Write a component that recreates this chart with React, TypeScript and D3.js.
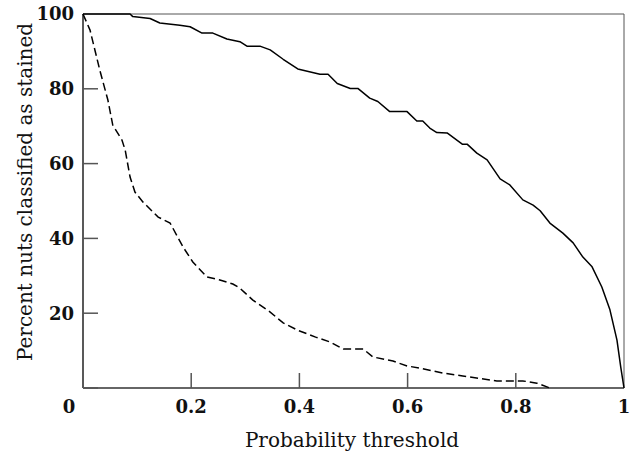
import React from "react";
import { scaleLinear, line } from "d3";

// solid curve: probability threshold vs percent classified as stained
const solidX = [0, 0.087, 0.092, 0.124, 0.142, 0.179, 0.198, 0.22, 0.24, 0.266, 0.29, 0.303, 0.327, 0.346, 0.37, 0.397, 0.438, 0.453, 0.47, 0.494, 0.508, 0.53, 0.545, 0.567, 0.599, 0.617, 0.628, 0.641, 0.654, 0.673, 0.701, 0.71, 0.728, 0.747, 0.771, 0.789, 0.813, 0.832, 0.845, 0.863, 0.887, 0.906, 0.924, 0.941, 0.959, 0.974, 0.987, 0.994, 1];
const solidY = [100, 100, 99.3, 98.8, 97.6, 97.0, 96.6, 94.9, 94.9, 93.3, 92.6, 91.4, 91.4, 90.4, 87.9, 85.3, 83.9, 83.9, 81.4, 80.1, 80.1, 77.5, 76.6, 73.9, 73.9, 71.4, 71.4, 69.5, 68.3, 68.2, 65.2, 65.2, 62.8, 61.0, 55.9, 54.3, 50.3, 48.9, 47.4, 44.1, 41.4, 38.8, 35.0, 32.4, 27.0, 20.9, 12.8, 5.6, 0];

// dashed curve
const dashX = [0, 0.013, 0.031, 0.046, 0.055, 0.072, 0.078, 0.087, 0.096, 0.111, 0.139, 0.161, 0.185, 0.203, 0.229, 0.253, 0.277, 0.29, 0.314, 0.346, 0.37, 0.396, 0.43, 0.457, 0.481, 0.518, 0.536, 0.573, 0.599, 0.623, 0.665, 0.702, 0.765, 0.813, 0.839, 0.863];
const dashY = [100, 95.7, 85, 77, 70.3, 66.3, 63.6, 56.4, 52.4, 49.7, 45.7, 44.1, 37.7, 33.7, 29.7, 28.9, 27.8, 26.7, 23.5, 20.3, 17.4, 15.5, 13.6, 12.3, 10.4, 10.4, 8.3, 7.2, 5.9, 5.3, 4.0, 3.2, 1.9, 1.9, 1.3, 0];

const xTicks = [0, 0.2, 0.4, 0.6, 0.8, 1];
const xTickLabels = ["0", "0.2", "0.4", "0.6", "0.8", "1"];
const yTicks = [0, 20, 40, 60, 80, 100];
const yTickLabels = ["", "20", "40", "60", "80", "100"];

const W = 637;
const H = 455;
const left = 83;
const right = 624;
const top = 14;
const bottom = 388;
const font = "'DejaVu Serif', serif";

export default function App() {
  const x = scaleLinear().domain([0, 1]).range([left, right]);
  const y = scaleLinear().domain([0, 100]).range([bottom, top]);

  const mk = (xs: number[], ys: number[]) =>
    line<number>()
      .x((d) => x(d))
      .y((_, i) => y(ys[i]))(xs) as string;

  return (
    <svg width={W} height={H} style={{ position: "absolute", left: 0, top: 0 }}>
      <rect width={W} height={H} fill="#fff" />
      {/* frame */}
      <line x1={left} x2={right} y1={top} y2={top} stroke="#555" strokeWidth={1} />
      <line x1={right} x2={right} y1={top} y2={bottom} stroke="#555" strokeWidth={1} />
      <line x1={left} x2={left} y1={top} y2={bottom} stroke="#222" strokeWidth={1.5} />
      <line x1={left} x2={right} y1={bottom} y2={bottom} stroke="#666" strokeWidth={2} />
      {/* y ticks */}
      {yTicks.map((t, i) => (
        <g key={"y" + t}>
          {t < 100 && (
            <line x1={left} x2={left + 15} y1={y(t)} y2={y(t)} stroke="#555" strokeWidth={1.5} />
          )}
          <text x={left - 9} y={y(t)} dy="0.35em" textAnchor="end" fontFamily={font} fontSize={18} fontWeight="bold" fill="#111">
            {yTickLabels[i]}
          </text>
        </g>
      ))}
      {/* x ticks */}
      {xTicks.map((t, i) => (
        <g key={"x" + t}>
          {t > 0 && t < 1 && (
            <line x1={x(t)} x2={x(t)} y1={bottom} y2={bottom - 15} stroke="#555" strokeWidth={1.5} />
          )}
          <text x={t === 0 ? x(t) - 14 : x(t)} y={407} dy="0.35em" textAnchor="middle" fontFamily={font} fontSize={18} fontWeight="bold" fill="#111">
            {xTickLabels[i]}
          </text>
        </g>
      ))}
      {/* curves */}
      <path d={mk(solidX, solidY)} fill="none" stroke="#000" strokeWidth={1.5} strokeLinejoin="round" />
      <path d={mk(dashX, dashY)} fill="none" stroke="#000" strokeWidth={1.5} strokeDasharray="8,4" />
      {/* axis titles */}
      <text x={352} y={440} dy="0.35em" textAnchor="middle" fontFamily={font} fontSize={20} fill="#111">
        Probability threshold
      </text>
      <text transform={`translate(25,192) rotate(-90)`} dy="0.35em" textAnchor="middle" fontFamily={font} fontSize={20} fill="#111">
        Percent nuts classified as stained
      </text>
    </svg>
  );
}
